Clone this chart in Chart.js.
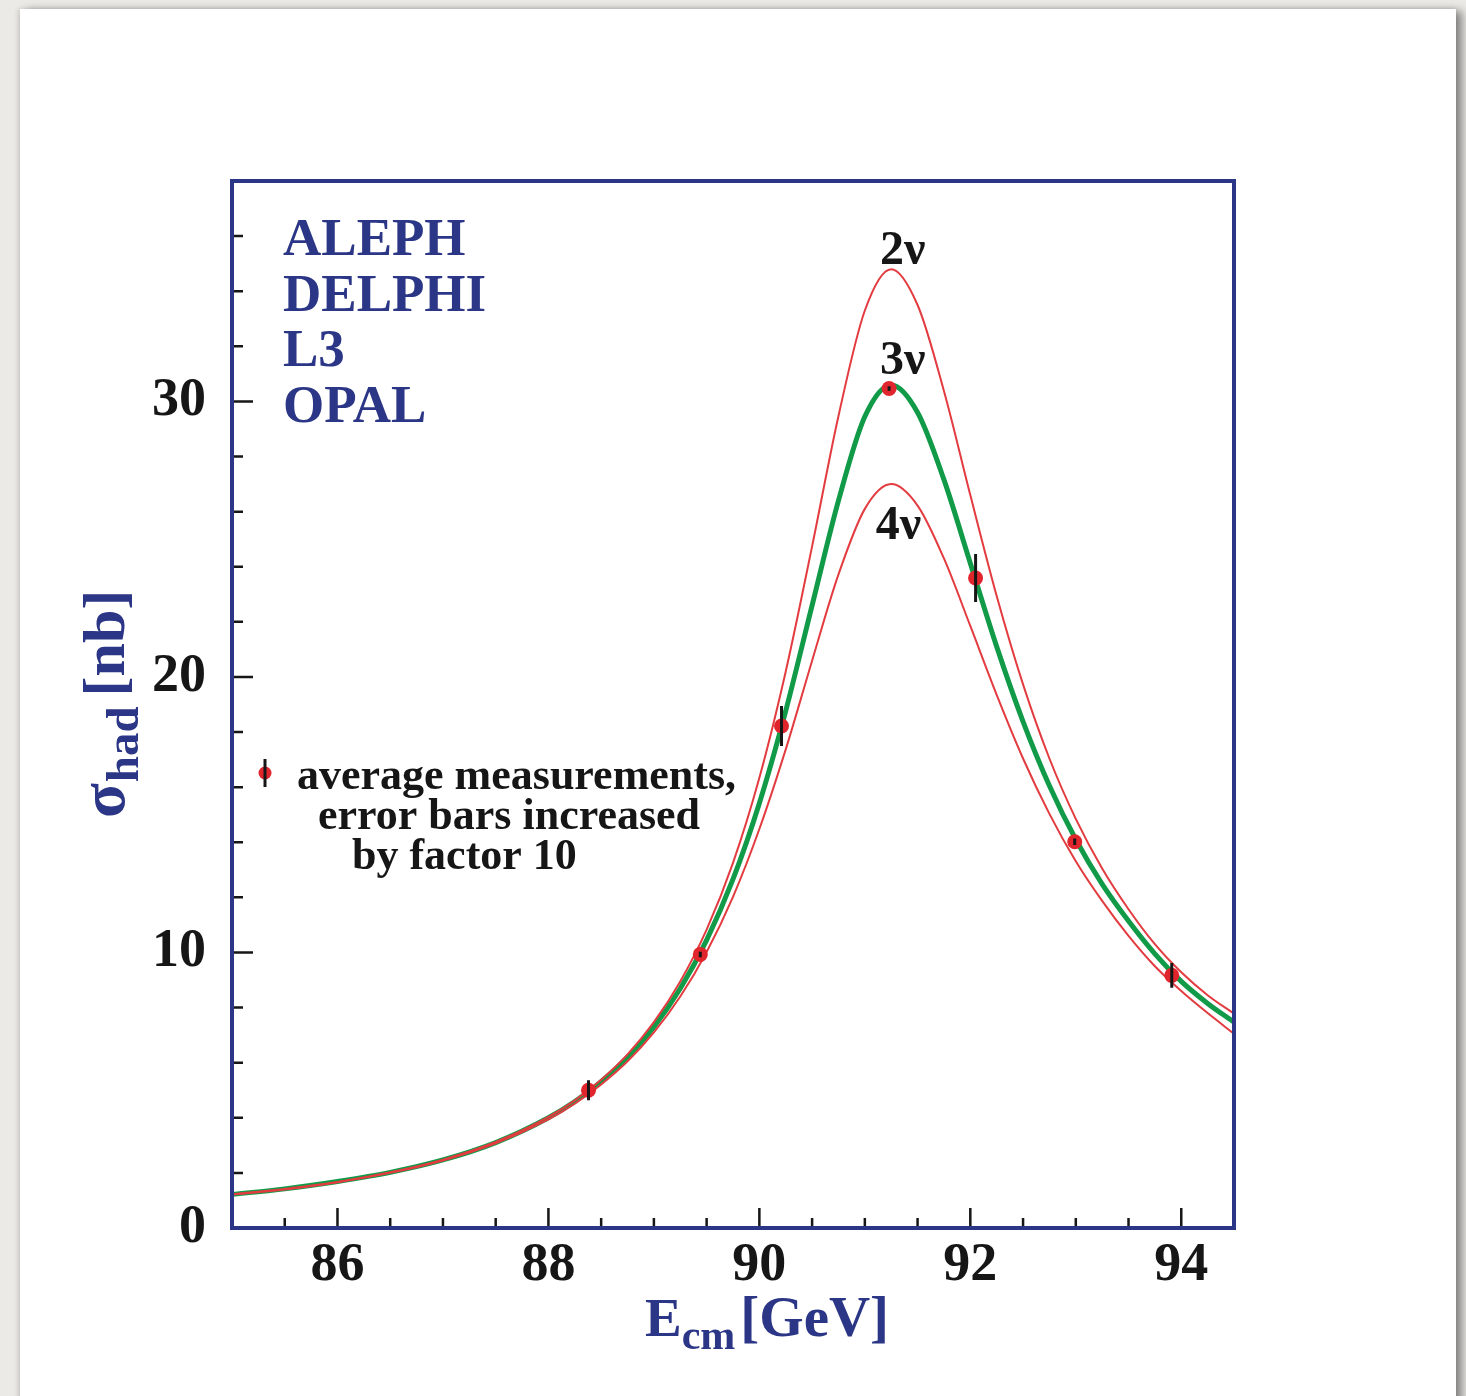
<!DOCTYPE html>
<html lang="en">
<head>
  <meta charset="UTF-8">
  <title>Hadronic cross section around the Z pole</title>
  <style>
    * { box-sizing: border-box; }
    html, body { margin: 0; padding: 0; }
    body { width: 1466px; height: 1396px; background: #ebeae6; position: relative; overflow: hidden; }
    .card {
      position: absolute; left: 20px; top: 9px; width: 1436px; height: 1420px;
      background: #ffffff;
      box-shadow: -2px 0 5px rgba(0, 0, 0, 0.12), 6px 2px 9px rgba(0, 0, 0, 0.45);
    }
    #xsec { position: absolute; left: 0; top: 0; }
  </style>
</head>
<body>
<div class="card"></div>
<canvas id="xsec" width="1466" height="1396"></canvas>

<script src="https://cdn.jsdelivr.net/npm/chart.js"></script>
<script>
  // centre-of-mass energies (GeV) for the curves
  const energies = [85, 85.5, 86, 86.5, 87, 87.5, 88, 88.25, 88.5, 88.75, 89, 89.25, 89.5, 89.75,
                    90, 90.25, 90.5, 90.75, 91, 91.25, 91.5, 91.75, 92, 92.25, 92.5, 92.75,
                    93, 93.25, 93.5, 93.75, 94, 94.25, 94.5];
  // hadronic cross section (nb)
  const sigma3nu = [1.22, 1.42, 1.69, 2.02, 2.47, 3.10, 4.00, 4.59, 5.31, 6.20, 7.30, 8.69, 10.45, 12.66,
                    15.42, 18.77, 22.6, 26.4, 29.45, 30.6, 29.6, 27.16, 24.13, 21.1, 18.38, 16.05,
                    14.1, 12.48, 11.14, 9.95, 8.95, 8.15, 7.47];
  const sigma2nu = [1.22, 1.42, 1.67, 2.02, 2.48, 3.12, 4.03, 4.63, 5.38, 6.30, 7.47, 8.95, 10.83, 13.25,
                    16.34, 20.20, 24.74, 29.47, 33.30, 34.8, 33.5, 30.38, 26.6, 22.94, 19.73, 17.04,
                    14.85, 13.05, 11.57, 10.30, 9.28, 8.45, 7.78];
  const sigma4nu = [1.21, 1.40, 1.66, 2.00, 2.45, 3.07, 3.94, 4.51, 5.21, 6.05, 7.10, 8.40, 10.02, 12.02,
                    14.48, 17.37, 20.59, 23.72, 26.10, 27.0, 26.22, 24.3, 21.85, 19.35, 17.04, 15.03,
                    13.31, 11.87, 10.6, 9.5, 8.6, 7.8, 7.05];

  // averaged measurements (error bars x10)
  const measE     = [88.38, 89.44, 90.21, 91.23, 92.05, 92.99, 93.91];
  const measSigma = [5.0, 9.93, 18.22, 30.47, 23.59, 14.02, 9.17];
  const measErr   = [0.36, 0.10, 0.73, 0.08, 0.87, 0.12, 0.45];

  const experiments = ['ALEPH', 'DELPHI', 'L3', 'OPAL'];
  const legendLines = ['average measurements,', 'error bars increased', 'by factor 10'];

  const NAVY = '#2c3687';
  const INK = '#161616';
  const DOT = '#e0262c';
  const SERIF = '"Liberation Serif", "Times New Roman", serif';

  function toXY(xs, ys) {
    return xs.map((x, i) => ({ x: x, y: ys[i] }));
  }

  // frame + inward ticks
  const framePlugin = {
    id: 'frame',
    afterDatasetsDraw(chart) {
      const { ctx, chartArea: ca, scales } = chart;
      ctx.save();
      ctx.strokeStyle = INK;
      ctx.lineWidth = 2.5;
      ctx.beginPath();
      scales.x.ticks.forEach(t => {
        if (t.value <= scales.x.min || t.value >= scales.x.max) return;
        const px = scales.x.getPixelForValue(t.value);
        const len = t.value % 2 === 0 ? 20 : 10;
        ctx.moveTo(px, ca.bottom);
        ctx.lineTo(px, ca.bottom - len);
      });
      scales.y.ticks.forEach(t => {
        if (t.value <= scales.y.min) return;
        const py = scales.y.getPixelForValue(t.value);
        const len = t.value % 10 === 0 ? 21 : 11;
        ctx.moveTo(ca.left, py);
        ctx.lineTo(ca.left + len, py);
      });
      ctx.stroke();
      ctx.strokeStyle = NAVY;
      ctx.lineWidth = 4;
      ctx.strokeRect(ca.left, ca.top, ca.right - ca.left, ca.bottom - ca.top);
      ctx.restore();
    }
  };

  // vertical error bars on the measurements
  const errorBarPlugin = {
    id: 'errbars',
    afterDatasetsDraw(chart) {
      const { ctx, scales } = chart;
      ctx.save();
      ctx.strokeStyle = INK;
      ctx.lineWidth = 3;
      ctx.beginPath();
      measE.forEach((e, i) => {
        const px = scales.x.getPixelForValue(e);
        ctx.moveTo(px, scales.y.getPixelForValue(measSigma[i] - measErr[i]));
        ctx.lineTo(px, scales.y.getPixelForValue(measSigma[i] + measErr[i]));
      });
      ctx.stroke();
      ctx.restore();
    }
  };

  // labels, legend and axis titles
  const textPlugin = {
    id: 'texts',
    afterDraw(chart) {
      const { ctx, chartArea: ca, scales } = chart;
      ctx.save();
      ctx.textBaseline = 'alphabetic';

      // experiments
      ctx.fillStyle = NAVY;
      ctx.font = 'bold 53px ' + SERIF;
      ctx.textAlign = 'left';
      experiments.forEach((name, i) => ctx.fillText(name, ca.left + 51, ca.top + 74 + i * 55.5));

      // curve labels
      ctx.fillStyle = INK;
      ctx.font = 'bold 48px ' + SERIF;
      ctx.textAlign = 'center';
      ctx.fillText('2ν', scales.x.getPixelForValue(91.36), scales.y.getPixelForValue(35.0));
      ctx.fillText('3ν', scales.x.getPixelForValue(91.36), scales.y.getPixelForValue(31.0));
      ctx.fillText('4ν', scales.x.getPixelForValue(91.32), scales.y.getPixelForValue(25.0));

      // legend marker
      const mx = ca.left + 33, my = ca.top + 592;
      ctx.fillStyle = DOT;
      ctx.beginPath();
      ctx.arc(mx, my, 6.5, 0, Math.PI * 2);
      ctx.fill();
      ctx.strokeStyle = INK;
      ctx.lineWidth = 3;
      ctx.beginPath();
      ctx.moveTo(mx, my - 14);
      ctx.lineTo(mx, my + 14);
      ctx.stroke();

      // legend text
      ctx.fillStyle = INK;
      ctx.font = 'bold 44px ' + SERIF;
      ctx.textAlign = 'left';
      ctx.fillText(legendLines[0], ca.left + 65, ca.top + 608);
      ctx.fillText(legendLines[1], ca.left + 86, ca.top + 648);
      ctx.fillText(legendLines[2], ca.left + 120, ca.top + 688);

      // x title: E_cm [GeV]
      ctx.fillStyle = NAVY;
      let x = 645;
      ctx.font = 'bold 55px ' + SERIF;
      ctx.fillText('E', x, 1336);
      x += ctx.measureText('E').width;
      ctx.font = 'bold 42px ' + SERIF;
      ctx.fillText('cm', x, 1349);
      x += ctx.measureText('cm').width + 5;
      ctx.font = 'bold 57px ' + SERIF;
      ctx.fillText('[GeV]', x, 1336);

      // y title: sigma_had [nb], rotated
      ctx.translate(124, 818);
      ctx.rotate(-Math.PI / 2);
      let t = 0;
      ctx.font = 'bold 64px ' + SERIF;
      ctx.fillText('σ', t, 0);
      t += ctx.measureText('σ').width + 1;
      ctx.font = 'bold 47px ' + SERIF;
      ctx.fillText('had', t, 14);
      t += ctx.measureText('had').width + 10;
      ctx.font = 'bold 60px ' + SERIF;
      ctx.fillText('[nb]', t, 0);

      ctx.restore();
    }
  };

  const tickFont = { family: SERIF, size: 54, weight: 'bold' };

  new Chart(document.getElementById('xsec').getContext('2d'), {
    type: 'line',
    data: {
      datasets: [
        {
          type: 'scatter', label: 'average measurements', data: toXY(measE, measSigma),
          pointRadius: 7.5, pointBackgroundColor: DOT, pointBorderColor: DOT, pointBorderWidth: 0, showLine: false
        },
        {
          label: '2ν', data: toXY(energies, sigma2nu), borderColor: '#e33c40', borderWidth: 2,
          pointRadius: 0, cubicInterpolationMode: 'monotone', fill: false
        },
        {
          label: '4ν', data: toXY(energies, sigma4nu), borderColor: '#e33c40', borderWidth: 2,
          pointRadius: 0, cubicInterpolationMode: 'monotone', fill: false
        },
        {
          label: '3ν', data: toXY(energies, sigma3nu), borderColor: '#119a48', borderWidth: 5,
          pointRadius: 0, cubicInterpolationMode: 'monotone', fill: false
        }
      ]
    },
    options: {
      responsive: false,
      animation: false,
      devicePixelRatio: 1,
      layout: { padding: { left: 0, top: 181, right: 232, bottom: 98 } },
      plugins: { legend: { display: false }, tooltip: { enabled: false } },
      scales: {
        x: {
          type: 'linear', min: 85, max: 94.5,
          afterFit: s => { s.height = 70; },
          grid: { display: false, drawTicks: false },
          border: { display: false },
          ticks: {
            stepSize: 0.5, autoSkip: false, maxRotation: 0, padding: 6, color: INK, font: tickFont,
            callback: v => (v % 2 === 0 ? String(v) : '')
          }
        },
        y: {
          type: 'linear', min: 0, max: 38,
          afterFit: s => { s.width = 232; },
          grid: { display: false, drawTicks: false },
          border: { display: false },
          ticks: {
            stepSize: 2, autoSkip: false, padding: 26, color: INK, font: tickFont,
            callback: v => (v % 10 === 0 ? String(v) : '')
          }
        }
      }
    },
    plugins: [framePlugin, errorBarPlugin, textPlugin]
  });
</script>
</body>
</html>
